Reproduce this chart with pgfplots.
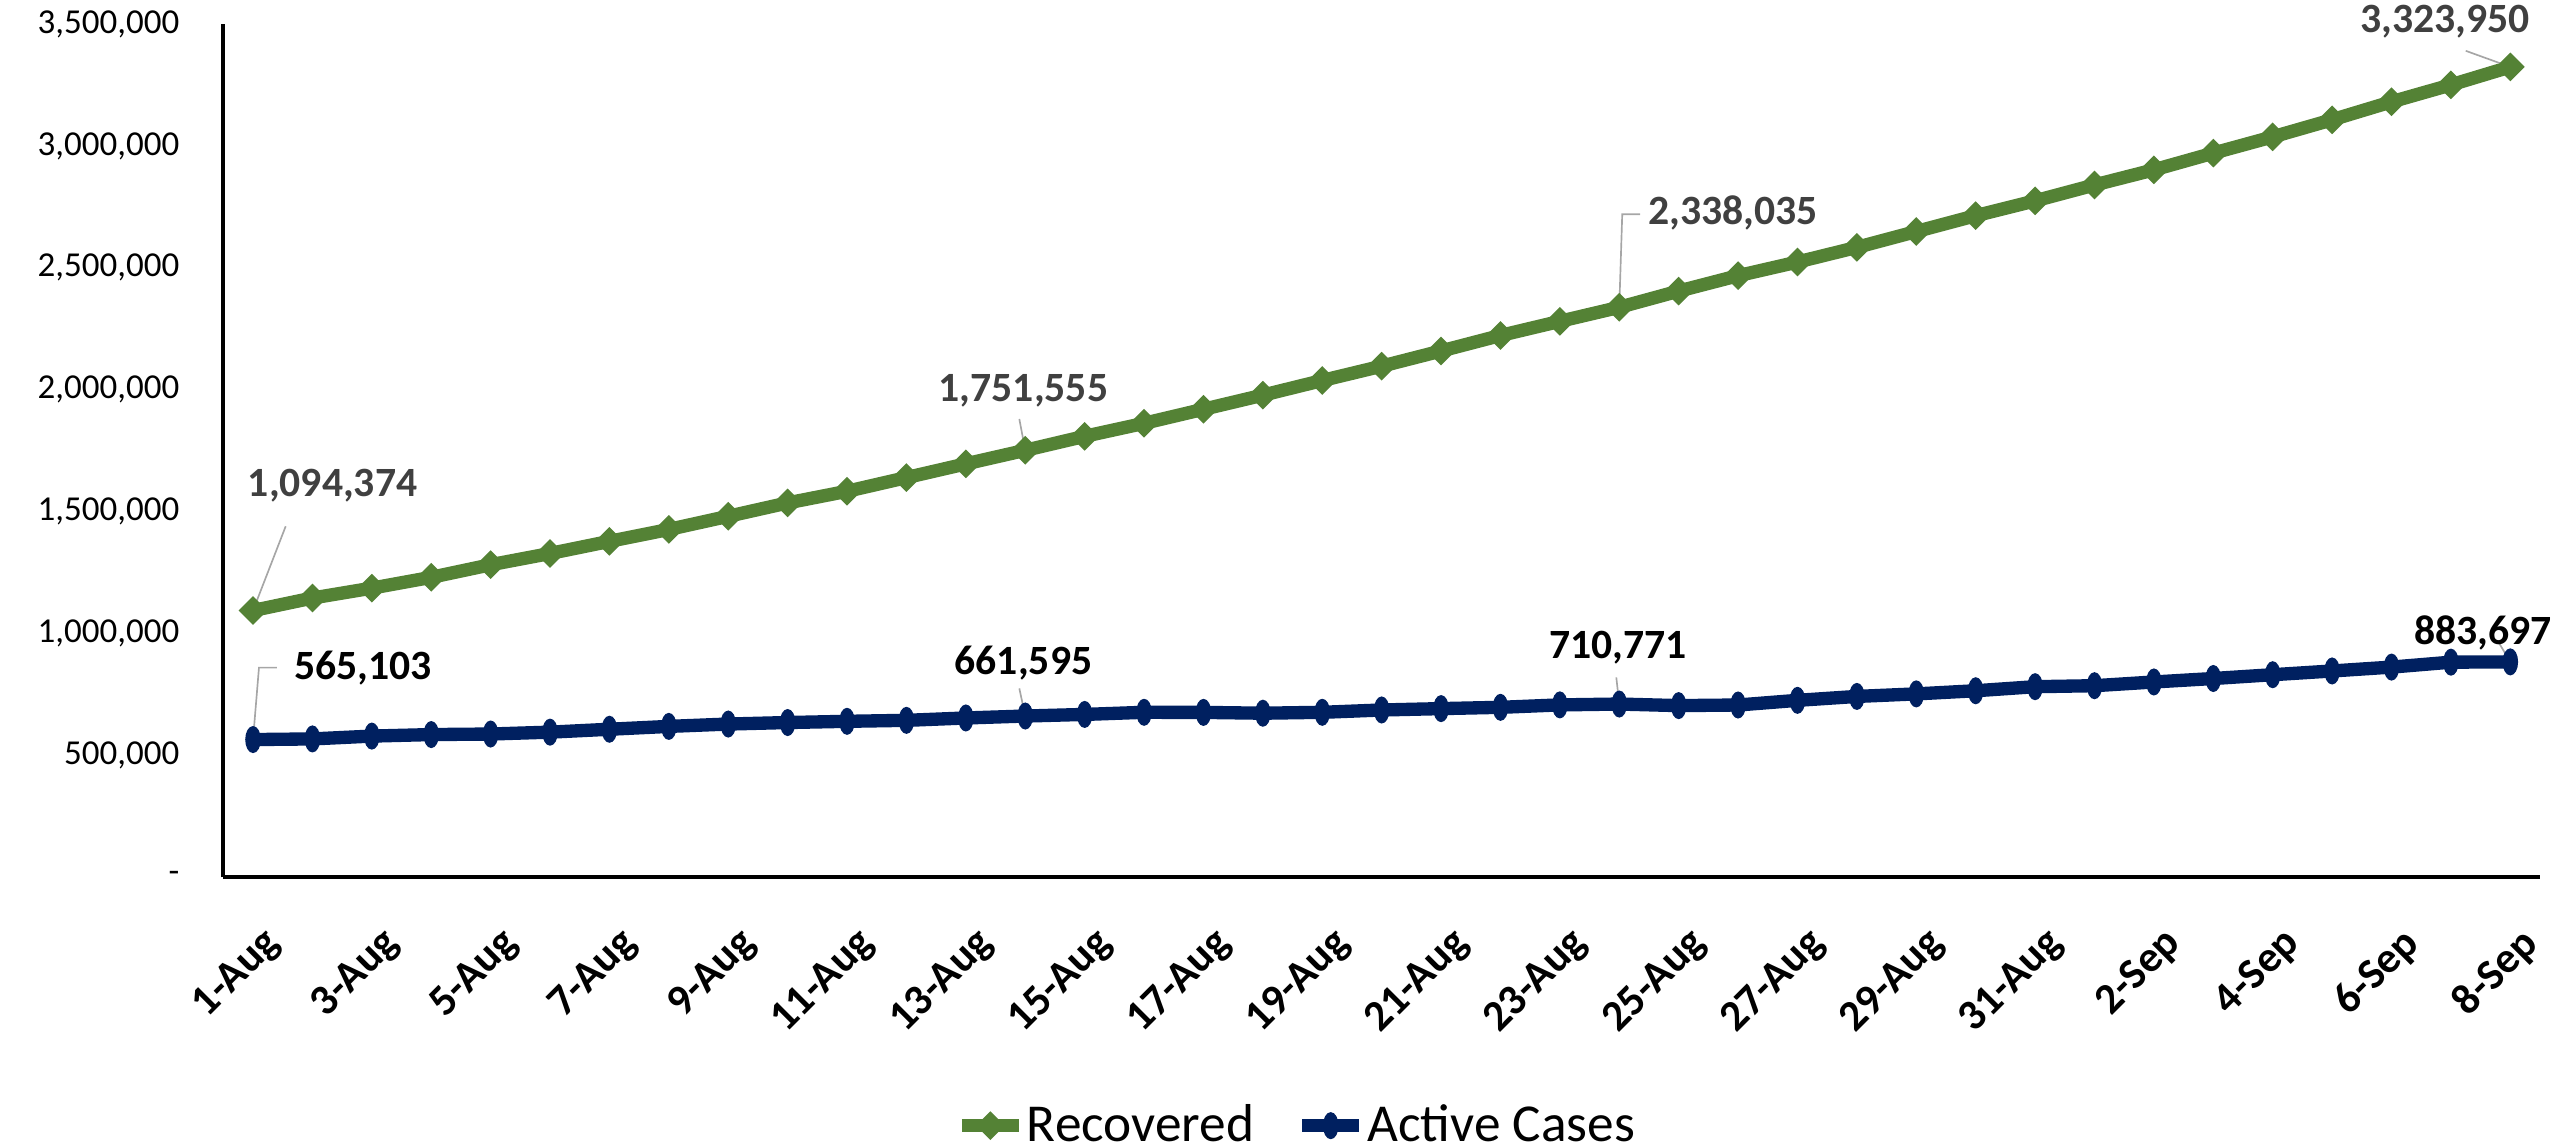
\documentclass[border=0pt]{standalone}
\usepackage{fontspec}
\setmainfont{Carlito}
\usepackage{pgfplots}
\pgfplotsset{compat=1.18}
\usepackage{pgfplotstable}
\definecolor{recg}{HTML}{548235}
\definecolor{actn}{HTML}{002060}
\definecolor{lblg}{HTML}{404040}
\definecolor{lead}{HTML}{A6A6A6}
\pgfplotstableread{
x y
0 1094374
1 1145629
2 1186203
3 1230509
4 1282215
5 1328336
6 1378105
7 1427005
8 1480884
9 1535743
10 1583489
11 1639599
12 1695982
13 1751555
14 1808936
15 1862258
16 1919842
17 1977779
18 2037870
19 2096664
20 2158946
21 2222577
22 2280566
23 2338035
24 2404585
25 2467758
26 2523771
27 2583948
28 2648998
29 2713933
30 2774801
31 2839882
32 2901908
33 2970492
34 3037151
35 3107223
36 3180865
37 3250429
38 3323950
}\recovtab
\pgfplotstableread{
x y
0 565103
1 567730
2 579357
3 585587
4 587825
5 595501
6 607384
7 619088
8 628747
9 634945
10 639929
11 643948
12 653622
13 661595
14 668220
15 676900
16 676514
17 673166
18 676900
19 686395
20 692028
21 697330
22 707267
23 710771
24 704348
25 706851
26 725991
27 742023
28 752424
29 765302
30 781975
31 785996
32 801282
33 815538
34 831124
35 846395
36 862320
37 882542
38 883697
}\activetab
\begin{document}
\begin{tikzpicture}
\begin{axis}[
  at={(0,0)}, anchor=south west,
  scale only axis, width=695bp, height=256bp,
  xmin=-0.5, xmax=38.5, ymin=0, ymax=3500000,
  clip=false,
  axis x line*=bottom, axis y line*=left,
  axis line style={-, black, line width=1.2bp},
  major tick length=0pt,
  xtick={0,2,...,38},
  xticklabels={1-Aug,3-Aug,5-Aug,7-Aug,9-Aug,11-Aug,13-Aug,15-Aug,17-Aug,19-Aug,21-Aug,23-Aug,25-Aug,27-Aug,29-Aug,31-Aug,2-Sep,4-Sep,6-Sep,8-Sep},
  x tick label style={xshift=2.5bp, yshift=-12.5bp, rotate=45, anchor=north east, font=\fontsize{13bp}{15bp}\selectfont\bfseries, inner sep=1bp},
  ytick={0,500000,1000000,1500000,2000000,2500000,3000000,3500000},
  yticklabels={-\hspace{5bp},{500,000},{1,000,000},{1,500,000},{2,000,000},{2,500,000},{3,000,000},{3,500,000}},
  y tick label style={font=\fontsize{10.5bp}{12bp}\selectfont, inner sep=1bp, xshift=-12bp},
  legend columns=2,
  legend style={at={(0.463,-0.291)}, anchor=center, draw=none, fill=none,
    font=\fontsize{16bp}{18bp}\selectfont,
    nodes={inner sep=0.5bp},
    /tikz/every even column/.append style={column sep=12bp}},
  legend image code/.code={\draw[#1,mark repeat=2,mark phase=2] plot coordinates {(0bp,0bp)(8.5bp,0bp)(17bp,0bp)};},
]
\addplot[color=recg, line width=4bp, mark=square*, mark size=2.8bp, mark options={rotate=45, line width=0.5bp}] table[x=x,y=y] {\recovtab};
\addlegendentry{Recovered}
\addplot[color=actn, line width=4bp, mark=*, mark size=3.8bp, mark options={xscale=0.55, line width=0.5bp}] table[x=x,y=y] {\activetab};
\addlegendentry{Active Cases}
% leader lines
\draw[lead, line width=0.5bp] (axis cs:0,1094374) -- (axis cs:0.55,1440000);
\draw[lead, line width=0.5bp] (axis cs:0,565103) -- (axis cs:0.1,860000) -- (axis cs:0.4,860000);
\draw[lead, line width=0.5bp] (axis cs:13,1751555) -- (axis cs:12.9,1880000);
\draw[lead, line width=0.5bp] (axis cs:13,661595) -- (axis cs:12.9,775000);
\draw[lead, line width=0.5bp] (axis cs:23,2338035) -- (axis cs:23.05,2720000) -- (axis cs:23.35,2720000);
\draw[lead, line width=0.5bp] (axis cs:23,710771) -- (axis cs:22.95,820000);
\draw[lead, line width=0.5bp] (axis cs:38,3323950) -- (axis cs:37.25,3390000);
\draw[lead, line width=0.5bp] (axis cs:38,883697) -- (axis cs:37.8,965000);
% data labels
\node[text=lblg, font=\fontsize{12.5bp}{15bp}\selectfont\bfseries] at (axis cs:1.34,1606000) {1,094,374};
\node[text=black, font=\fontsize{12.5bp}{15bp}\selectfont\bfseries] at (axis cs:1.85,860000) {565,103};
\node[text=lblg, font=\fontsize{12.5bp}{15bp}\selectfont\bfseries] at (axis cs:12.97,1994000) {1,751,555};
\node[text=black, font=\fontsize{12.5bp}{15bp}\selectfont\bfseries] at (axis cs:12.97,876700) {661,595};
\node[text=lblg, font=\fontsize{12.5bp}{15bp}\selectfont\bfseries] at (axis cs:24.92,2723700) {2,338,035};
\node[text=black, font=\fontsize{12.5bp}{15bp}\selectfont\bfseries] at (axis cs:22.98,943600) {710,771};
\node[text=lblg, font=\fontsize{12.5bp}{15bp}\selectfont\bfseries] at (axis cs:36.9,3510000) {3,323,950};
\node[text=black, font=\fontsize{12.5bp}{15bp}\selectfont\bfseries] at (axis cs:37.54,1003800) {883,697};
\end{axis}
\pgfresetboundingbox
\path[use as bounding box] (-67bp,-81.2bp) rectangle (699.2bp,263.2bp);
\end{tikzpicture}
\end{document}
